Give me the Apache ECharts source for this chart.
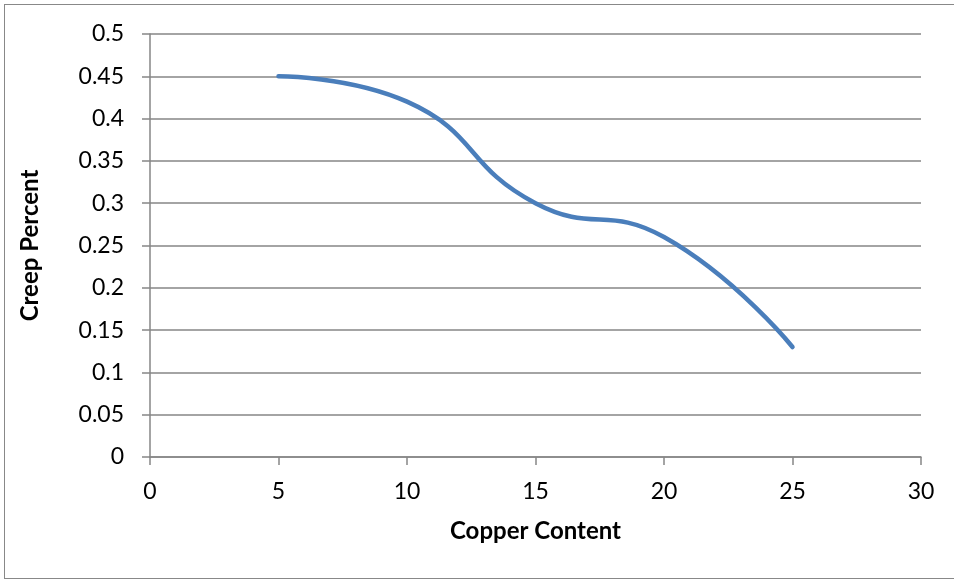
<!DOCTYPE html>
<html><head><meta charset="utf-8">
<script src="https://cdn.jsdelivr.net/npm/echarts@6/dist/echarts.min.js"></script>
<style>
html,body{margin:0;padding:0;background:#fff;overflow:hidden;}
#frame{position:absolute;left:4px;top:4px;width:960px;height:575px;border:1px solid #888;box-sizing:border-box;}
#c{position:absolute;left:0;top:0;width:954px;height:580px;}
</style></head><body>
<div id="frame"></div>
<div id="c"></div>
<script>
const copperContent = [5, 10, 15, 20, 25];
const creepPercent = [0.45, 0.42, 0.30, 0.26, 0.13];
const xTitle = 'Copper Content';
const yTitle = 'Creep Percent';

const chart = echarts.init(document.getElementById('c'), null, {renderer:'canvas'});
const font = 'Lato, "Open Sans", sans-serif';
chart.setOption({
  animation:false,
  grid:{left:150, top:34, right:954-921, bottom:580-457, containLabel:false},
  xAxis:{type:'value', min:0, max:30, interval:5,
    name:xTitle, nameLocation:'middle', nameGap:62,
    nameTextStyle:{fontFamily:font, fontWeight:'bold', fontSize:24, color:'#000'},
    axisLine:{show:true, lineStyle:{color:'#868686', width:1.5}},
    axisTick:{show:true, length:8, lineStyle:{color:'#868686', width:1.5}},
    axisLabel:{fontFamily:font, fontSize:23, color:'#000', margin:23},
    splitLine:{show:false}},
  yAxis:{type:'value', min:0, max:0.5, interval:0.05,
    name:yTitle, nameLocation:'middle', nameGap:108,
    nameTextStyle:{fontFamily:font, fontWeight:'bold', fontSize:24, color:'#000'},
    axisLine:{show:true, lineStyle:{color:'#868686', width:1.5}},
    axisTick:{show:true, length:8, lineStyle:{color:'#868686', width:1.5}},
    axisLabel:{fontFamily:font, fontSize:23, color:'#000', margin:26,
      formatter:v=>String(Math.round(v*100)/100)},
    splitLine:{show:true, lineStyle:{color:'#868686', width:1.5}}},
  series:[{type:'line', data:copperContent.map((x,i)=>[x, creepPercent[i]]),
    smooth:0.5, symbol:'none',
    lineStyle:{color:'#4a7ebb', width:4.5, cap:'round'}}]
});
</script></body></html>
